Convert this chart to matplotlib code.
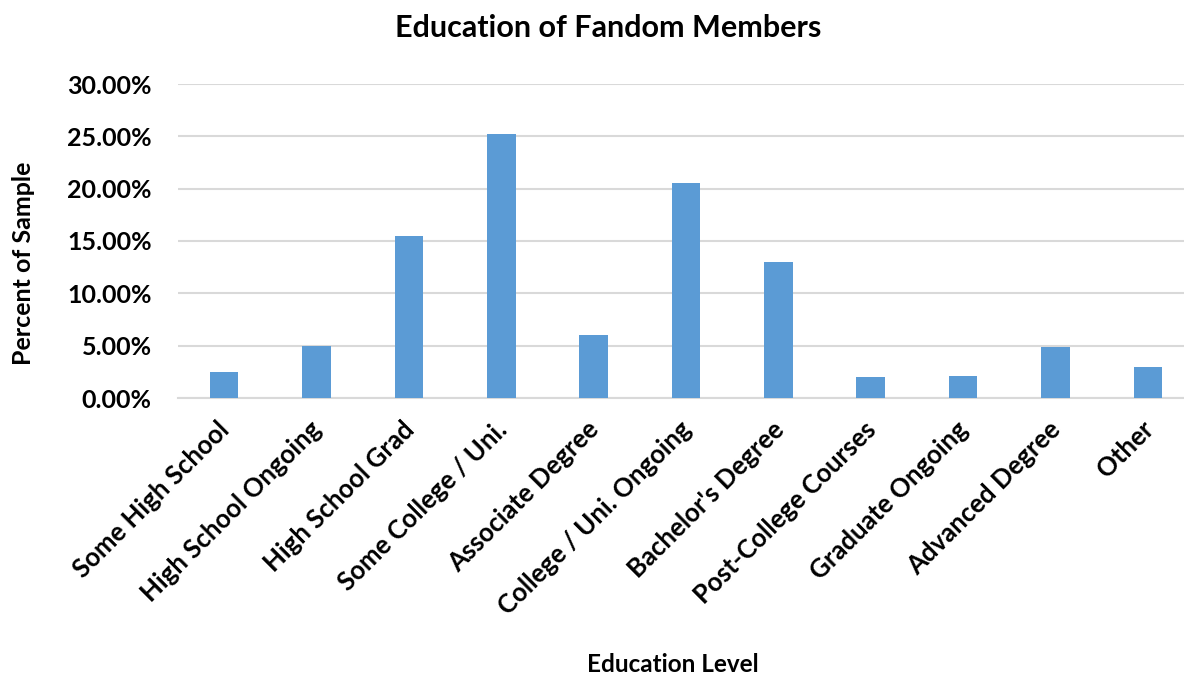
import matplotlib.pyplot as plt
from matplotlib.ticker import FuncFormatter
from matplotlib.transforms import ScaledTranslation

# 교육 수준별 응답 비율 (%)
categories = ['Some High School', 'High School Ongoing', 'High School Grad',
              'Some College / Uni.', 'Associate Degree', 'College / Uni. Ongoing',
              "Bachelor's Degree", 'Post-College Courses', 'Graduate Ongoing',
              'Advanced Degree', 'Other']
values = [2.5, 5.0, 15.5, 25.2, 6.0, 20.5, 13.0, 2.0, 2.1, 4.9, 3.0]
yticks = [0, 5, 10, 15, 20, 25, 30]

plt.rcParams['font.family'] = ['Lato', 'DejaVu Sans']
plt.rcParams['font.weight'] = 'bold'

fig = plt.figure(figsize=(11.84, 6.77), dpi=100)
ax = fig.add_axes([178/1184, 1-398/677, 1016/1184, 314/677])

x = list(range(len(categories)))
ax.bar(x, values, width=0.31, color='#5b9bd5', zorder=3)

ax.set_xlim(-0.5, len(categories) - 0.5)
ax.set_ylim(0, 30)
ax.set_yticks(yticks)
ax.yaxis.set_major_formatter(FuncFormatter(lambda v, p: f'{v:.2f}%'))
ax.grid(axis='y', color='#d9d9d9', linewidth=1.5, zorder=0)
for s in ['top', 'right', 'left']:
    ax.spines[s].set_visible(False)
ax.spines['bottom'].set_color('#d9d9d9')
ax.spines['bottom'].set_linewidth(1.5)
ax.tick_params(axis='both', length=0)
ax.tick_params(axis='y', pad=19, labelsize=18)

ax.set_xticks(x)
ax.set_xticklabels(categories, rotation=45, ha='right', rotation_mode='anchor',
                   fontsize=18.5, fontweight='bold')
shift = ScaledTranslation(-7/100, -14/100, fig.dpi_scale_trans)  # 라벨을 살짝 왼쪽 아래로
for lbl in ax.get_xticklabels():
    lbl.set_transform(lbl.get_transform() + shift)
for lbl in ax.get_yticklabels():
    lbl.set_fontweight('bold')

fig.text(608/1184, 1-28/677, 'Education of Fandom Members', ha='center', va='center',
         fontsize=22, fontweight='bold')
fig.text(673/1184, 1-665/677, 'Education Level', ha='center', va='center',
         fontsize=17.5, fontweight='bold')
fig.text(24/1184, 1-263/677, 'Percent of Sample', ha='center', va='center',
         rotation=90, fontsize=18, fontweight='bold')

fig.savefig('out.png', dpi=100)
